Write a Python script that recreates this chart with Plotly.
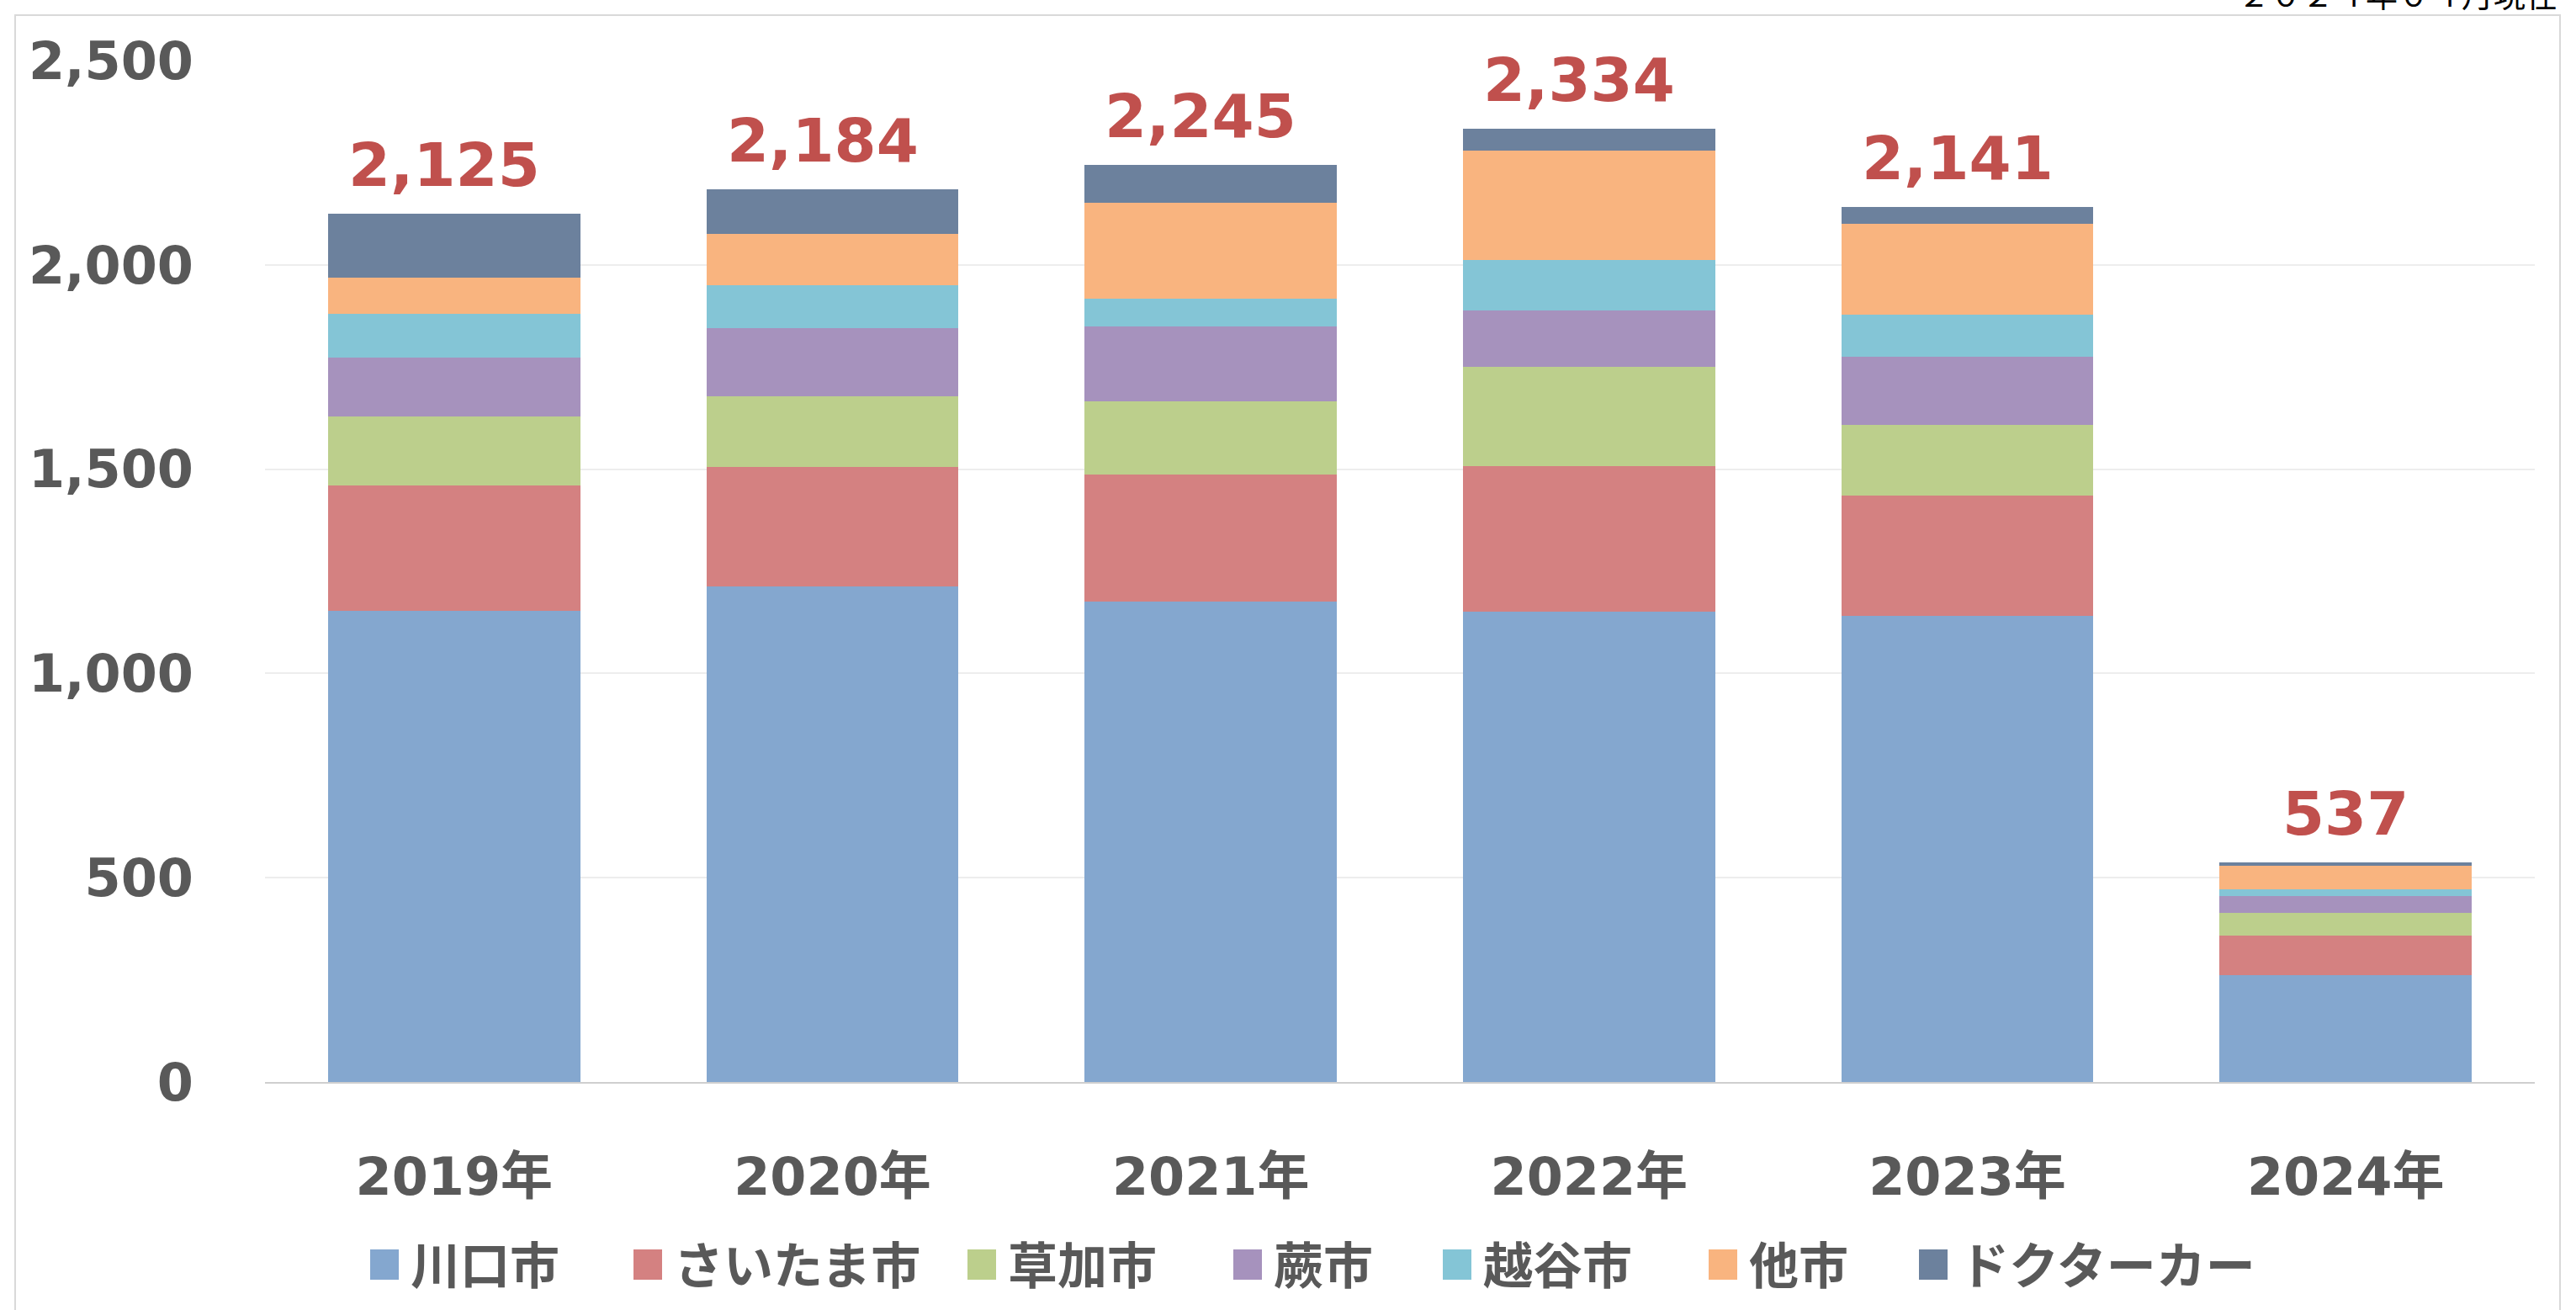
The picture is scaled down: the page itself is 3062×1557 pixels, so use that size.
import plotly.graph_objects as go

years = ["2019年", "2020年", "2021年", "2022年", "2023年", "2024年"]
series_names = ["川口市", "さいたま市", "草加市", "蕨市", "越谷市", "他市", "ドクターカー"]
kawaguchi = [1154, 1213, 1176, 1152, 1140, 261]
saitama = [306, 293, 310, 356, 295, 97]
soka = [168, 173, 179, 243, 174, 56]
warabi = [145, 167, 185, 138, 166, 41]
koshigaya = [107, 105, 68, 122, 103, 16]
others = [88, 125, 234, 269, 223, 58]
doctor_car = [157, 108, 93, 54, 40, 8]
totals = [2125, 2184, 2245, 2334, 2141, 537]
y_ticks = [0, 500, 1000, 1500, 2000, 2500]
note_text = "２０２４年０４月現在"

series_values = [kawaguchi, saitama, soka, warabi, koshigaya, others, doctor_car]
colors = ["#84A7CF", "#D48181", "#BCCF8C", "#A692BD", "#84C5D6", "#F9B47F", "#6C819D"]

W, H = 3062, 1557
L, R, T, B = 315, 49, 72, 271
PW = W - L - R
PH = H - T - B


def px_x(px):
    return (px - L) / PW


def px_y(py):
    return (H - B - py) / PH


NUM_FONT = "DejaVu Sans, Noto Sans CJK JP, sans-serif"
JP_FONT = "Noto Sans CJK JP, DejaVu Sans, sans-serif"
GREY = "#595959"

fig = go.Figure()
for name, vals, col in zip(series_names, series_values, colors):
    fig.add_trace(go.Bar(
        x=years, y=vals, name=name,
        marker=dict(color=col, line=dict(width=0)),
        showlegend=False,
    ))

annotations = []
for yr, tot in zip(years, totals):
    annotations.append(dict(
        x=yr, y=tot, xref="x", yref="y",
        text=f"{tot:,}", showarrow=False,
        yanchor="middle", xanchor="center", yshift=58,
        xshift=-12 if tot >= 1000 else 0,
        font=dict(family=NUM_FONT, size=72, color="#C0504D", weight="bold"),
    ))

# custom legend
legend_lefts = [440, 753, 1150, 1466, 1715, 2031, 2281]
shapes = []
for name, col, lx in zip(series_names, colors, legend_lefts):
    shapes.append(dict(
        type="rect", xref="paper", yref="paper",
        x0=px_x(lx), x1=px_x(lx + 34), y0=px_y(1521), y1=px_y(1485),
        fillcolor=col, line=dict(width=0), layer="above",
    ))
    annotations.append(dict(
        x=px_x(lx + 46), y=px_y(1500), xref="paper", yref="paper",
        text=name, showarrow=False, xanchor="left", yanchor="middle",
        font=dict(family=JP_FONT, size=59, color=GREY, weight="bold"),
    ))

# outer chart border
shapes.append(dict(
    type="rect", xref="paper", yref="paper",
    x0=px_x(18), x1=px_x(3043), y0=px_y(1600), y1=px_y(18),
    line=dict(color="#D9D9D9", width=2), fillcolor="rgba(0,0,0,0)", layer="below",
))

# note at top-right
annotations.append(dict(
    x=px_x(3042), y=px_y(21), xref="paper", yref="paper",
    text=note_text, showarrow=False, xanchor="right", yanchor="bottom",
    font=dict(family=JP_FONT, size=38, color="#000000"),
))

fig.update_layout(
    width=W, height=H,
    margin=dict(l=L, r=R, t=T, b=B, pad=0),
    barmode="stack",
    bargap=0.333,
    plot_bgcolor="white",
    paper_bgcolor="white",
    showlegend=False,
    annotations=annotations,
    shapes=shapes,
    xaxis=dict(
        showgrid=False, zeroline=False,
        showline=True, linecolor="#CFCFCF", linewidth=2,
        ticks="", ticklabelstandoff=58,
        tickfont=dict(family=NUM_FONT, size=62, color=GREY, weight="bold"),
    ),
    yaxis=dict(
        range=[0, 2500], tickvals=y_ticks, tickformat=",",
        showgrid=True, gridcolor="#EDEDED", gridwidth=2,
        zeroline=False, showline=False,
        ticks="", ticklabelstandoff=84,
        tickfont=dict(family=NUM_FONT, size=62, color=GREY, weight="bold"),
    ),
)

fig.write_html("out.html")
